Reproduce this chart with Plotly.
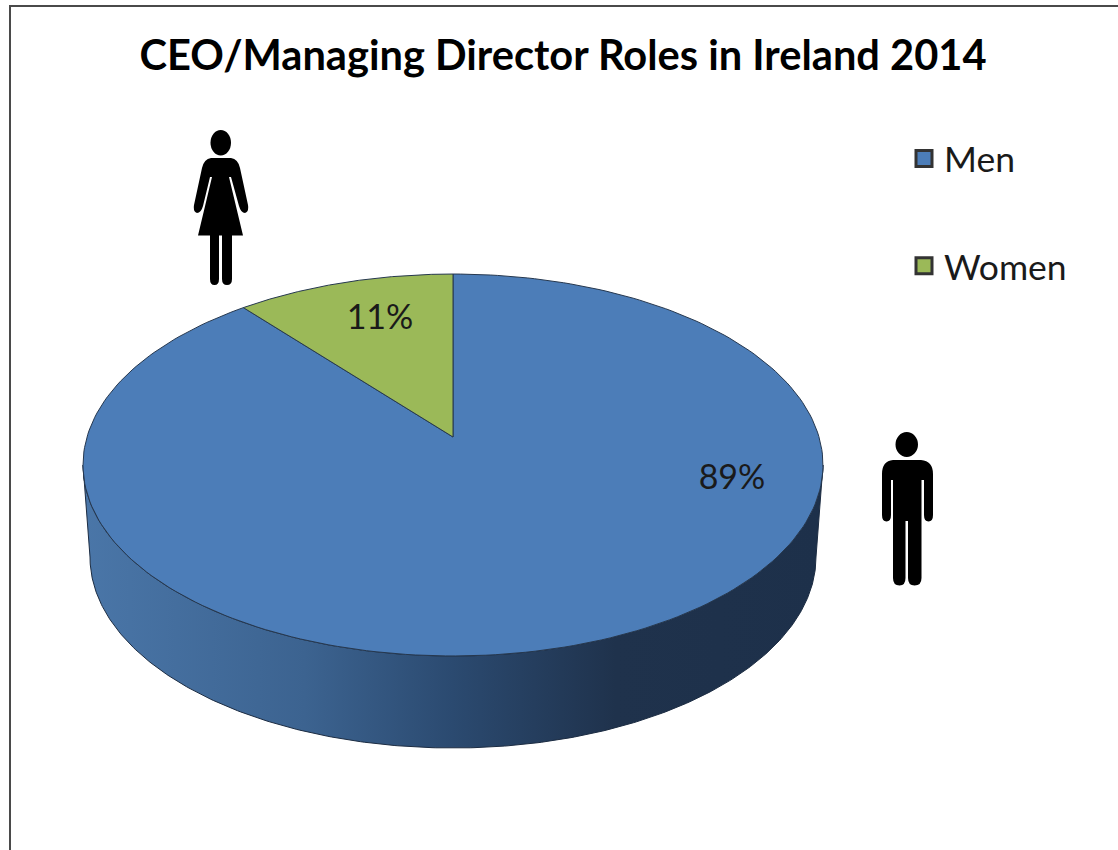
import numpy as np
import plotly.graph_objects as go

# ---- data ----
categories = ["Men", "Women"]
shares = [89, 11]
slice_colors = ["#4c7db8", "#9bb958"]
title_text = "CEO/Managing Director Roles in Ireland 2014"

# ---- perspective projection of the pie disc onto the page (axes are in page pixels) ----
CX, CY, DX, A, C = 453.0, 437.0, 366.0, -122.8, 0.1466


def project(theta):
    """theta: clockwise angle from 12 o'clock, radians; returns the rim point."""
    u, v = np.sin(theta), np.cos(theta)
    d = 1 + C * v
    return CX + DX * u / d, (CY + A * v) / d


def arc(f0, f1, n=240):
    t = np.linspace(f0, f1, n) * 2 * np.pi
    return project(t)


fig = go.Figure()

# side wall of the disc: top rim front half and lower rim
ang = np.linspace(np.pi, 0, 300)
top_x, top_y = 453 + 370 * np.cos(ang), 465 + 191 * np.sin(ang)
low_x, low_y = 453 + 363 * np.cos(ang[::-1]), 557 + 191 * np.sin(ang[::-1])
fig.add_trace(go.Scatter(
    x=np.concatenate([top_x, low_x, top_x[:1]]),
    y=np.concatenate([top_y, low_y, top_y[:1]]),
    mode="lines", fill="toself", showlegend=False, hoverinfo="skip",
    line=dict(color="#1c2c42", width=1),
    fillgradient=dict(
        type="horizontal",
        colorscale=[[0, "#4a76a8"], [0.3, "#3c6390"], [0.5, "#2b4a70"],
                    [0.72, "#1f324c"], [1, "#1d304a"]],
    ),
))

# slices, clockwise from 12 o'clock
start = 0.0
total = sum(shares)
for name, val, col in zip(categories, shares, slice_colors):
    stop = start + val / total
    ax, ay = arc(start, stop)
    fig.add_trace(go.Scatter(
        x=np.concatenate([[CX], ax, [CX]]), y=np.concatenate([[CY], ay, [CY]]),
        mode="lines", fill="toself", fillcolor=col, name=name, showlegend=False,
        line=dict(color="#26384f", width=1), hoverinfo="name",
    ))
    start = stop

# value labels
fig.add_trace(go.Scatter(
    x=[732, 380], y=[480, 320], mode="text", showlegend=False, hoverinfo="skip",
    text=[f"{v}%" for v in shares],
    textposition="middle center",
    textfont=dict(family="Lato", size=34, color="#1a1a1a"),
))

# legend entries
for i, (name, col) in enumerate(zip(categories, slice_colors)):
    fig.add_trace(go.Scatter(
        x=[None], y=[None], mode="markers", name=name, legendgroup=name,
        marker=dict(symbol="square", size=16, color=col, line=dict(color="#333333", width=3)),
    ))

MAN = ("M893,460 Q882,461 882,474 L882,515 Q882,521.5 886.5,521.5 Q891,521.5 891,515 L891,480 L893,480 "
       "L893,578 Q893,585.5 899.5,585.5 Q905.5,585.5 905.5,578 L905.5,521 L908,521 L908,578 "
       "Q908,585.5 914.5,585.5 Q921.5,585.5 921.5,578 L921.5,480 L924,480 L924,515 Q924,521.5 928.5,521.5 "
       "Q933,521.5 933,515 L933,474 Q933,461 921,460 Z")
WOMAN = ("M211,158 Q204,159 202,168 L194,205 Q193,212 197,213 Q201,213 203,206 L210,177 L212,177 L198,235.5 "
         "L210,235.5 L210,279 Q210,285 214.5,285 Q219,285 219,279 L219,235.5 L222,235.5 L222,279 "
         "Q222,285 227,285 Q232,285 232,279 L232,235.5 L243,235.5 L229,177 L231,177 L239,206 "
         "Q241,213 245,213 Q249,212 248,205 L240,168 Q238,159 231,158 Z")
shapes = [
    dict(type="path", path=MAN, fillcolor="black", line=dict(width=0)),
    dict(type="circle", x0=895.5, x1=918, y0=432, y1=457, fillcolor="black", line=dict(width=0)),
    dict(type="path", path=WOMAN, fillcolor="black", line=dict(width=0)),
    dict(type="circle", x0=210.5, x1=231, y0=130, y1=155.5, fillcolor="black", line=dict(width=0)),
    dict(type="path", path="M10,850 L10,6 L1118,6", line=dict(color="#4a4a4a", width=2)),
]
for s in shapes:
    s.update(xref="x", yref="y", layer="above")

fig.update_layout(
    width=1118, height=850, margin=dict(l=0, r=0, t=0, b=0),
    paper_bgcolor="white", plot_bgcolor="white",
    xaxis=dict(range=[0, 1118], visible=False, fixedrange=True),
    yaxis=dict(range=[850, 0], visible=False, fixedrange=True),
    title=dict(text=f"<b>{title_text}</b>", x=563 / 1118, xanchor="center",
               y=1 - 55 / 850, yanchor="middle",
               font=dict(family="Lato", size=41.6, color="black")),
    legend=dict(x=904 / 1118, y=1 - 129 / 850, xanchor="left", yanchor="top",
                font=dict(family="Lato", size=35.5, color="#1a1a1a"),
                tracegroupgap=58, itemsizing="trace", bgcolor="rgba(0,0,0,0)"),
    shapes=shapes, showlegend=True,
)
fig.write_html("out.html", config=dict(displayModeBar=False),
               post_script="document.body.style.margin='0';document.documentElement.style.overflow='hidden';")
